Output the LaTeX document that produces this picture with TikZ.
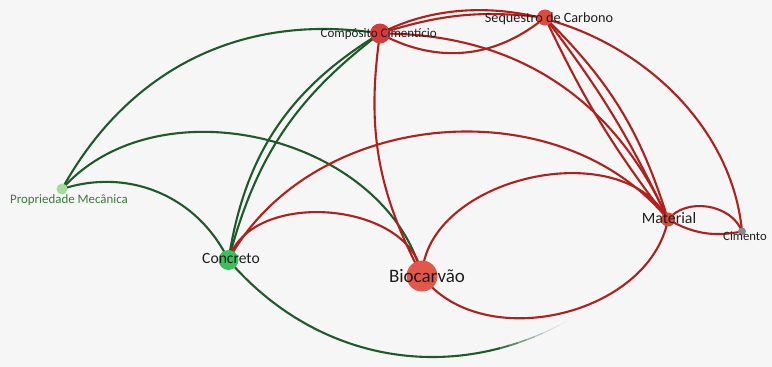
\documentclass[tikz,border=0pt]{standalone}
\usepackage{fontspec}
\setmainfont{Carlito}
\definecolor{bg}{HTML}{F6F6F6}
\definecolor{ered}{HTML}{B0201C}
\definecolor{egreen}{HTML}{1F5A29}
\definecolor{nccred}{HTML}{D63A3A}
\definecolor{nseq}{HTML}{DD4B3F}
\definecolor{nbio}{HTML}{E2574C}
\definecolor{nmat}{HTML}{D9473D}
\definecolor{ncon}{HTML}{3DBF5C}
\definecolor{npm}{HTML}{A3DC9C}
\definecolor{ncim}{HTML}{8A8A8A}
\definecolor{txt}{HTML}{1E1E1E}
\definecolor{pmtxt}{HTML}{3B7A3B}
\tikzset{
  redge/.style={draw=ered, line width=2.1pt},
  gedge/.style={draw=egreen, line width=2.1pt},
  dot/.style={circle, inner sep=0pt, draw=none},
  lbl/.style={text=txt, anchor=base, inner sep=0pt},
}
\begin{document}
\begin{tikzpicture}[x=1pt,y=1pt]
\fill[bg] (0,0) rectangle (772,-367);
\useasboundingbox (0,0) rectangle (772,-367);
% nodes (positions)
\node[dot, minimum size=20pt] (cc) at (380,-33.5) {};
\node[dot, minimum size=16pt] (seq) at (545,-17.5) {};
\node[dot, minimum size=11pt] (pm) at (62,-189) {};
\node[dot, minimum size=20pt] (con) at (228.5,-260) {};
\node[dot, minimum size=31pt] (bio) at (422,-276) {};
\node[dot, minimum size=14pt] (mat) at (668,-219.5) {};
\node[dot, minimum size=8pt] (cim) at (742,-231.5) {};
\coordinate (fadeEnd) at (574,-317);
% green edges
\draw[gedge] (pm.center) to[bend left=35] (cc.center);
\draw[gedge] (pm.center) to[bend left=62] (bio.center);
\draw[gedge] (pm.center) to[bend left=41] (con.center);
\draw[gedge] (con.center) to[bend left=25] (cc.center);
\draw[gedge] (con.center) to[bend left=19] (cc.center);
% fading green edge (drawn as dash ranges of decreasing opacity)
\draw[gedge, dash pattern=on 302pt off 2000pt] (con.center) to[bend right=40] (fadeEnd);
\foreach \o/\w [count=\i] in {0.85/1.9,0.7/1.8,0.55/1.6,0.42/1.4,0.3/1.2,0.2/1.0,0.12/0.9,0.06/0.8}{
  \pgfmathsetmacro{\ph}{2009-(302+9*(\i-1))}
  \draw[gedge, line width=\w pt, opacity=\o, dash pattern=on 9pt off 2000pt, dash phase=\ph pt] (con.center) to[bend right=40] (fadeEnd);
}
% red edges
\draw[redge] (con.center) to[bend left=78] (bio.center);
\draw[redge] (con.center) to[bend left=56] (mat.center);
\draw[redge] (cc.center) to[bend right=18] (bio.center);
\draw[redge] (bio.center) to[bend left=75] (mat.center);
\draw[redge] (bio.center) to[bend right=66] (mat.center);
\draw[redge] (cc.center) to[bend left=12] (seq.center);
\draw[redge] (cc.center) to[bend right=34] (seq.center);
\draw[redge] (cc.center) to[bend left=56] (cim.center);
\draw[redge] (cc.center) to[bend left=33] (mat.center);
\draw[redge] (seq.center) to[bend right=6] (mat.center);
\draw[redge] (seq.center) to[bend left=6] (mat.center);
\draw[redge] (seq.center) to[bend left=14] (mat.center);
\draw[redge] (mat.center) to[bend left=60] (cim.center);
\draw[redge] (mat.center) to[bend right=20] (cim.center);
% node discs
\fill[nccred] (cc) circle (10pt);
\fill[nseq] (seq) circle (8pt);
\fill[npm] (pm) circle (5.5pt);
\fill[ncon] (con) circle (10pt);
\fill[nbio] (bio) circle (15.5pt);
\fill[nmat] (mat) circle (7pt);
\fill[ncim] (cim) circle (4pt);
% labels
\node[lbl, font=\fontsize{13}{13}\selectfont] (ccL) at (378.7,-37.3) {Compósito Cimentício};
\node[lbl, font=\fontsize{14.2}{14.2}\selectfont] (seqL) at (549,-22.7) {Sequestro de Carbono};
\node[lbl, font=\fontsize{12.9}{12.9}\selectfont, text=pmtxt] (pmL) at (69,-203.3) {Propriedade Mecânica};
\node[lbl, font=\fontsize{15.6}{15.6}\selectfont] (conL) at (231,-263.3) {Concreto};
\node[lbl, font=\fontsize{19}{19}\selectfont] (bioL) at (427,-282.5) {Biocarvão};
\node[lbl, font=\fontsize{15.8}{15.8}\selectfont] (matL) at (669,-223.3) {Material};
\node[lbl, font=\fontsize{12.7}{12.7}\selectfont] (cimL) at (745,-240) {Cimento};
\end{tikzpicture}
\end{document}
